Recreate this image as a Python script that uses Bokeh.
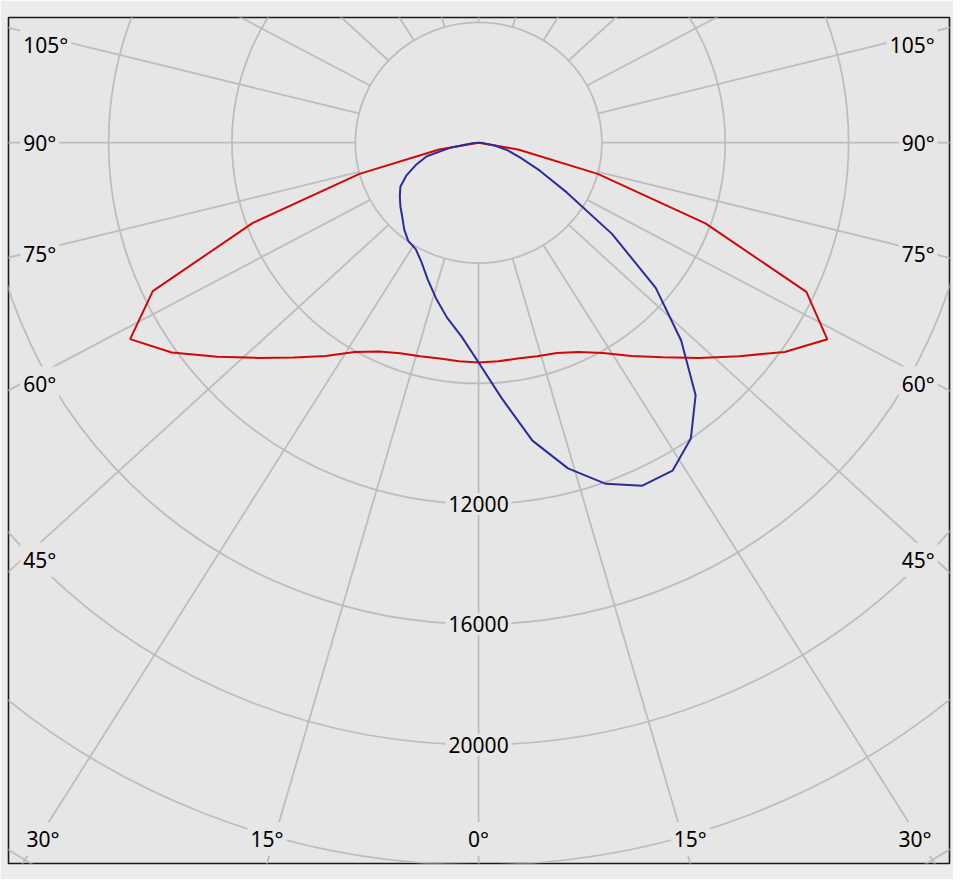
import numpy as np
from bokeh.plotting import figure
from bokeh.models import Range1d
from bokeh.embed import file_html
from bokeh.resources import INLINE
from bokeh.core.properties import value

# ---------------- data (luminous intensity, cd) ----------------
gamma_deg = [0, 5, 10, 15, 20, 25, 30, 35, 40, 45, 50, 55, 60, 65, 70, 75, 80, 85, 90]
red_c0    = [7300, 7290, 7280, 7345, 7435, 7670, 8065, 8650, 9305, 10115, 11030, 12120, 13060, 11730, 7830, 4000, 1300, 0, 0]
red_c180  = [7300, 7290, 7280, 7340, 7440, 7650, 8030, 8650, 9310, 10110, 11060, 12150, 13050, 11660, 7790, 4000, 1300, 0, 0]
blue_c90  = [7300, 8510, 10050, 11200, 12060, 12570, 12580, 12000, 10950, 9290, 7500, 5280, 3300, 2180, 1440, 980, 530, 150, 0]
blue_c270 = [7300, 6450, 5900, 5345, 4830, 4380, 4080, 3980, 3755, 3500, 3310, 3120, 2930, 2590, 2170, 1740, 900, 200, 0]

ring_values = [4000, 8000, 12000, 16000, 20000, 24000, 28000]
ring_label_values = [12000, 16000, 20000]
spoke_angles = list(range(0, 360, 15))
side_label_angles = [105, 90, 75, 60, 45]
bottom_label_angles = [-30, -15, 0, 15, 30]

# ---------------- styling / geometry ----------------
W, H = 953, 879
SX, SY = W / 969.0, H / 895.0          # fit the whole scene into the window
PX_X = 0.03135 * SX                     # px per cd horizontally
PX_Y = 0.03065 * SY                     # px per cd vertically
BL, BT = round(8 * SX), round(17 * SY)  # frame left / top
FRAME_W = round(957 * SX)
FRAME_H = round(861 * SY)
CX_PX, CY_PX = 478 * SX, 127.5 * SY     # centre offset from frame top-left
SPOKE_SKEW = 1.07                       # angular skew of the radial grid lines
GRID = "#bdbdbd"
BG = "#e6e6e6"
FONT = value("Noto Sans")
FSIZE = value("21px")

x0, x1 = -CX_PX / PX_X, (FRAME_W - CX_PX) / PX_X
y0, y1 = -(FRAME_H - CY_PX) / PX_Y, CY_PX / PX_Y

p = figure(width=W, height=H,
           x_range=Range1d(x0, x1), y_range=Range1d(y0, y1),
           output_backend="svg", toolbar_location=None,
           x_axis_location=None, y_axis_location=None,
           min_border_left=BL, min_border_right=W - BL - FRAME_W,
           min_border_top=BT, min_border_bottom=H - BT - FRAME_H,
           background_fill_color=BG, border_fill_color="#ececec",
           outline_line_color="#1a1a1a", outline_line_width=1.6)
p.grid.visible = False


def polar(angles, radii, sign=1.0):
    a = np.radians(np.asarray(angles, dtype=float))
    r = np.asarray(radii, dtype=float)
    return sign * r * np.sin(a), -r * np.cos(a)


# rings
rv = np.asarray(ring_values, dtype=float)
p.ellipse(x=np.zeros_like(rv), y=np.zeros_like(rv), width=2 * rv, height=2 * rv,
          fill_color=None, line_color=GRID, line_width=1.8)

# spokes (start at the innermost ring)
xs, ys = [], []
for a in spoke_angles:
    ar = np.radians(a)
    phi = np.arctan2(SPOKE_SKEW * np.sin(ar), np.cos(ar))
    r_in, r_out = ring_values[0], 80000
    xs.append([r_in * np.sin(phi), r_out * np.sin(phi)])
    ys.append([-r_in * np.cos(phi), -r_out * np.cos(phi)])
p.multi_line(xs=xs, ys=ys, line_color=GRID, line_width=1.8)

# ---------------- labels ----------------
lab_kw = dict(text_font=FONT, text_font_size=FSIZE, text_color="#000000",
              text_baseline="middle", background_fill_color=BG, padding=3)

# side labels
lx, ly, lt = [], [], []
rx, ry, rt = [], [], []
xc = x1 - 14 * SX / PX_X
y_top_limit = y1 - 28 * SY / PX_Y
for a in side_label_angles:
    ar = np.radians(a)
    phi = np.arctan2(SPOKE_SKEW * np.sin(ar), np.cos(ar))
    yy = -xc * np.cos(phi) / np.sin(phi)
    yy = min(yy, y_top_limit)
    lx.append(x0 + 12 * SX / PX_X); ly.append(yy); lt.append(f"{a}°")
    rx.append(x1 - 12 * SX / PX_X); ry.append(yy); rt.append(f"{a}°")
p.text(x=lx, y=ly, text=lt, text_align="left", **lab_kw)
p.text(x=rx, y=ry, text=rt, text_align="right", **lab_kw)

# bottom labels
bx, by, bt = [], [], []
for a in bottom_label_angles:
    ar = np.radians(abs(a))
    xx = np.sign(a) * abs(y0) * SPOKE_SKEW * np.tan(ar)
    xx = float(np.clip(xx, x0 + 35 * SX / PX_X, x1 - 35 * SX / PX_X))
    bx.append(xx); by.append(y0 + 25 * SY / PX_Y); bt.append(f"{abs(a)}°")
p.text(x=bx, y=by, text=bt, text_align="center", **lab_kw)

# ring value labels
p.text(x=[0] * len(ring_label_values), y=[-v for v in ring_label_values],
       text=[str(v) for v in ring_label_values], text_align="center", **lab_kw)

# ---------------- curves ----------------
g = np.asarray(gamma_deg, dtype=float)
xl, yl = polar(g[::-1], red_c180[::-1], -1)
xr, yr = polar(g[1:], red_c0[1:], 1)
p.line(np.concatenate([xl, xr]), np.concatenate([yl, yr]), line_color="#d00808", line_width=2)

xl, yl = polar(g[::-1], blue_c270[::-1], -1)
xr, yr = polar(g[1:], blue_c90[1:], 1)
p.line(np.concatenate([xl, xr]), np.concatenate([yl, yr]), line_color="#2c2c9c", line_width=2)

open("out.html", "w").write(file_html(p, INLINE))
